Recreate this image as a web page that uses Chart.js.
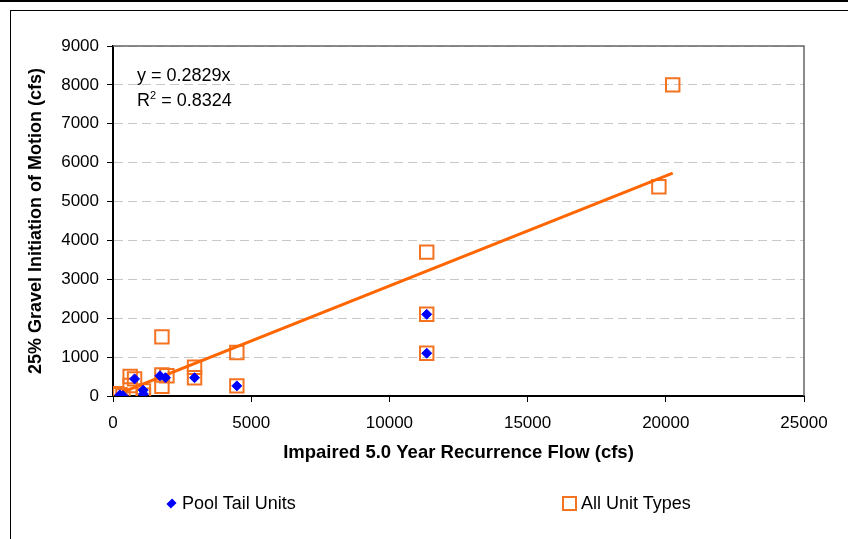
<!DOCTYPE html>
<html>
<head>
<meta charset="utf-8">
<script src="https://cdn.jsdelivr.net/npm/chart.js@4.4.0/dist/chart.umd.min.js"></script>
<style>
  html, body { margin: 0; padding: 0; background: #fff; }
  #wrap { position: relative; width: 848px; height: 539px; overflow: hidden;
          font-family: 'Liberation Sans', Arial, sans-serif; color: #000; }
  #topline { position: absolute; left: 0; top: 0; width: 848px; height: 2px; background: #000; }
  #frame { position: absolute; left: 10px; top: 10px; width: 900px; height: 600px;
           border-left: 1.5px solid #000; border-top: 1.5px solid #000; pointer-events: none; }
  canvas { position: absolute; left: 0; top: 0; }
  #eq { position: absolute; left: 137px; top: 63px; font-size: 18px; line-height: 25px; white-space: nowrap; }
  #eq sup { font-size: 11px; vertical-align: 7px; line-height: 0; }
  .leg { position: absolute; top: 492px; height: 22px; font-size: 18px; line-height: 22px; white-space: nowrap; }
  .leg .mk { display: inline-block; vertical-align: middle; margin-right: 5px; position: relative; top: -1px; }
</style>
</head>
<body>
<div id="wrap">
  <canvas id="scatterChart" width="848" height="539"></canvas>
  <div id="topline"></div>
  <div id="frame"></div>
  <div id="eq"></div>
  <div id="legend"></div>
</div>
<script>
// data
var poolTailX = [250, 360, 1090, 1100, 780, 1700, 1900, 2950, 4480, 11350, 11350];
var poolTailY = [30, 10, 150, 50, 440, 520, 470, 470, 260, 2100, 1100];

var allTypesX = [120, 250, 360, 1100, 1100, 620, 780, 620, 1770, 1770, 1950, 1770, 2950, 2950, 4480, 4480, 11350, 11350, 11350, 19750, 20250];
var allTypesY = [60, 30, 0, 130, 20, 500, 440, 270, 1520, 540, 520, 250, 740, 470, 1120, 260, 3700, 2100, 1100, 5380, 8000];

var trendSlope = 0.2829;
var trendR2 = 0.8324;

var xTicks = [0, 5000, 10000, 15000, 20000, 25000];
var yTicks = [0, 1000, 2000, 3000, 4000, 5000, 6000, 7000, 8000, 9000];

function toPoints(xs, ys) {
  return xs.map(function (x, i) { return { x: x, y: ys[i] }; });
}

var trendFrom = Math.min.apply(null, allTypesX);
var trendTo = Math.max.apply(null, allTypesX);

var fontFamily = "'Liberation Sans', Arial, sans-serif";
Chart.defaults.font.family = fontFamily;
Chart.defaults.color = '#000';

// plot frame (top and right edges)
var plotFrame = {
  id: 'plotFrame',
  beforeDatasetsDraw: function (chart) {
    var a = chart.chartArea, ctx = chart.ctx;
    ctx.save();
    ctx.strokeStyle = '#666';
    ctx.lineWidth = 1.5;
    ctx.beginPath();
    ctx.moveTo(a.left, a.top);
    ctx.lineTo(a.right, a.top);
    ctx.lineTo(a.right, a.bottom);
    ctx.stroke();
    ctx.restore();
  }
};

var ctx = document.getElementById('scatterChart').getContext('2d');
var chart = new Chart(ctx, {
  type: 'scatter',
  data: {
    datasets: [{
      label: 'Pool Tail Units',
      data: toPoints(poolTailX, poolTailY),
      pointStyle: 'rectRot',
      pointRadius: 5,
      backgroundColor: '#0000FF',
      borderColor: '#0000FF',
      borderWidth: 1,
      order: 0
    }, {
      label: 'Trend',
      type: 'line',
      data: [{ x: trendFrom, y: trendSlope * trendFrom }, { x: trendTo, y: trendSlope * trendTo }],
      borderColor: '#FF6600',
      borderWidth: 3,
      pointRadius: 0,
      fill: false,
      order: 1
    }, {
      label: 'All Unit Types',
      data: toPoints(allTypesX, allTypesY),
      pointStyle: 'rect',
      pointRadius: 9.5,
      backgroundColor: 'rgba(0,0,0,0)',
      borderColor: '#F47321',
      borderWidth: 2,
      order: 2
    }]
  },
  options: {
    responsive: false,
    animation: false,
    devicePixelRatio: 1,
    layout: { padding: { left: 0, right: 44, top: 46, bottom: 0 } },
    plugins: {
      legend: { display: false },
      tooltip: { enabled: false }
    },
    scales: {
      x: {
        type: 'linear',
        min: 0,
        max: 25000,
        afterBuildTicks: function (s) { s.ticks = xTicks.map(function (v) { return { value: v }; }); },
        afterFit: function (s) { s.height = 143; },
        ticks: { font: { size: 17 }, padding: 11, maxRotation: 0, callback: function (v) { return String(v); } },
        grid: { drawOnChartArea: false, drawTicks: true, tickLength: 6, tickColor: '#000', tickWidth: 1 },
        border: { display: true, color: '#000', width: 2 },
        title: { display: true, text: 'Impaired 5.0 Year Recurrence Flow (cfs)',
                 font: { size: 18.5, weight: 'bold' }, padding: { top: 0, bottom: 75 } }
      },
      y: {
        type: 'linear',
        min: 0,
        max: 9000,
        afterBuildTicks: function (s) { s.ticks = yTicks.map(function (v) { return { value: v }; }); },
        afterFit: function (s) { s.width = 113; },
        ticks: { font: { size: 17 }, padding: 8, callback: function (v) { return String(v); } },
        grid: { color: '#C8C8C8', lineWidth: 1, drawTicks: true, tickLength: 6,
                tickColor: '#000', tickWidth: 1, tickBorderDash: [] },
        border: { display: true, color: '#000', width: 2, dash: [9, 5] },
        title: { display: true, text: '25% Gravel Initiation of Motion (cfs)',
                 font: { size: 18, weight: 'bold' }, padding: { top: 25, bottom: 0 } }
      }
    }
  },
  plugins: [plotFrame]
});

// trend equation label
document.getElementById('eq').innerHTML =
  'y = ' + trendSlope.toFixed(4) + 'x<br>R<sup>2</sup> = ' + trendR2.toFixed(4);

// html legend built from the datasets
var legendLeft = { 'Pool Tail Units': 166, 'All Unit Types': 562 };
var legendEl = document.getElementById('legend');
chart.data.datasets.forEach(function (ds) {
  if (!(ds.label in legendLeft)) return;
  var item = document.createElement('div');
  item.className = 'leg';
  item.style.left = legendLeft[ds.label] + 'px';
  var mk = document.createElement('span');
  mk.className = 'mk';
  if (ds.pointStyle === 'rectRot') {
    mk.style.width = '7px';
    mk.style.height = '7px';
    mk.style.background = ds.backgroundColor;
    mk.style.transform = 'rotate(45deg) scale(0.9,1.15)';
    mk.style.marginLeft = '2px';
    mk.style.marginRight = '7px';
  } else {
    mk.style.width = '11px';
    mk.style.height = '11px';
    mk.style.border = '2px solid ' + ds.borderColor;
    mk.style.marginRight = '4px';
  }
  item.appendChild(mk);
  item.appendChild(document.createTextNode(ds.label));
  legendEl.appendChild(item);
});
</script>
</body>
</html>
